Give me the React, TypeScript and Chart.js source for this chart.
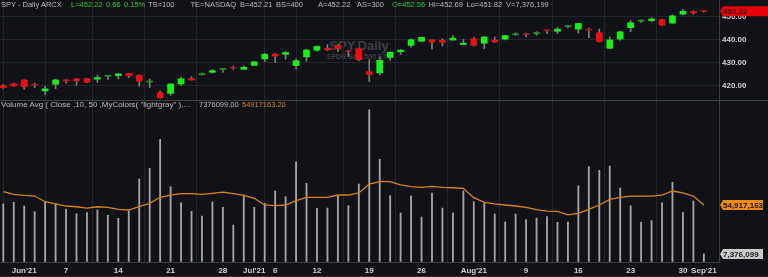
import React, { useEffect, useRef } from 'react';
import { Chart, registerables } from 'chart.js';

Chart.register(...registerables);

// ---------- data ----------
const dates = [
  '2021-05-27', '2021-05-28',
  '2021-06-01', '2021-06-02', '2021-06-03', '2021-06-04', '2021-06-07', '2021-06-08', '2021-06-09', '2021-06-10', '2021-06-11',
  '2021-06-14', '2021-06-15', '2021-06-16', '2021-06-17', '2021-06-18', '2021-06-21', '2021-06-22', '2021-06-23', '2021-06-24',
  '2021-06-25', '2021-06-28', '2021-06-29', '2021-06-30',
  '2021-07-01', '2021-07-02', '2021-07-06', '2021-07-07', '2021-07-08', '2021-07-09', '2021-07-12', '2021-07-13', '2021-07-14',
  '2021-07-15', '2021-07-16', '2021-07-19', '2021-07-20', '2021-07-21', '2021-07-22', '2021-07-23', '2021-07-26', '2021-07-27',
  '2021-07-28', '2021-07-29', '2021-07-30',
  '2021-08-02', '2021-08-03', '2021-08-04', '2021-08-05', '2021-08-06', '2021-08-09', '2021-08-10', '2021-08-11', '2021-08-12',
  '2021-08-13', '2021-08-16', '2021-08-17', '2021-08-18', '2021-08-19', '2021-08-20', '2021-08-23', '2021-08-24', '2021-08-25',
  '2021-08-26', '2021-08-27', '2021-08-30', '2021-08-31',
  '2021-09-01',
];

const open = [
  420.17, 420.97, 422.57, 420.37, 417.85, 420.75, 422.59, 423.11, 423.18, 422.96, 424.20,
  424.43, 425.42, 424.63, 421.67, 417.09, 416.80, 420.85, 423.19, 424.89, 425.90, 427.17,
  427.88, 427.21, 428.87, 431.67, 433.78, 433.66, 428.78, 432.53, 435.43, 436.24, 437.40,
  434.81, 436.01, 426.19, 425.68, 432.34, 434.74, 437.52, 439.31, 439.91, 439.68, 439.82,
  437.91, 440.34, 438.44, 439.78, 440.22, 442.10, 442.46, 442.61, 443.90, 443.62, 445.59,
  444.53, 444.24, 442.96, 436.27, 440.23, 445.16, 447.97, 448.17, 448.61, 447.12, 450.97,
  452.13, 452.56,
];
const high = [
  420.72, 421.25, 422.72, 421.23, 419.99, 422.92, 422.78, 423.21, 423.26, 424.63, 424.43,
  425.37, 425.46, 424.87, 423.02, 417.83, 421.06, 424.00, 424.05, 425.55, 427.09, 427.65,
  428.56, 428.78, 430.60, 434.10, 434.01, 434.76, 431.73, 435.84, 437.35, 437.84, 437.92,
  435.53, 436.06, 431.41, 432.42, 434.70, 435.72, 440.30, 441.03, 439.94, 440.30, 441.80,
  440.06, 440.93, 441.28, 441.12, 441.85, 442.94, 442.80, 443.44, 444.30, 445.26, 445.94,
  447.11, 444.96, 444.63, 441.14, 443.71, 448.23, 448.54, 449.46, 448.86, 450.65, 453.07,
  452.49, 452.69,
];
const low = [
  418.99, 419.79, 418.64, 419.29, 416.28, 418.84, 421.19, 420.32, 421.41, 421.55, 422.82,
  423.10, 423.54, 419.92, 419.32, 414.70, 415.93, 420.08, 422.51, 424.62, 425.55, 425.89,
  427.13, 427.18, 428.80, 430.52, 430.01, 431.51, 427.52, 430.71, 434.97, 435.31, 434.91,
  432.72, 430.92, 421.97, 424.83, 431.01, 433.69, 436.79, 439.26, 435.99, 437.31, 439.81,
  437.77, 437.21, 436.10, 438.73, 439.88, 441.80, 441.31, 441.88, 442.60, 442.66, 445.07,
  442.87, 440.85, 438.92, 436.12, 439.71, 443.44, 447.42, 447.77, 446.16, 447.06, 450.71,
  450.92, 451.82,
];
const close = [
  419.29, 420.04, 419.67, 420.33, 418.77, 422.60, 422.19, 422.28, 421.65, 423.61, 424.31,
  425.26, 424.48, 422.11, 421.97, 414.92, 420.86, 423.11, 422.60, 425.10, 426.61, 427.47,
  427.70, 428.06, 430.43, 433.72, 432.93, 434.46, 430.92, 435.52, 437.08, 435.59, 436.24,
  434.75, 431.34, 424.97, 431.06, 434.55, 435.46, 439.94, 441.02, 439.01, 438.83, 440.65,
  438.51, 437.59, 441.15, 438.98, 441.76, 442.49, 442.13, 442.68, 443.80, 444.53, 445.92,
  446.97, 444.04, 439.18, 439.86, 443.36, 447.26, 448.05, 448.91, 446.26, 450.25, 452.23,
  451.56, 452.22,
];

const volume = [
  56.0e6, 57.6e6, 54.0e6, 48.5e6, 58.2e6, 55.7e6, 51.1e6, 46.5e6, 47.5e6, 50.1e6,
  45.0e6, 42.0e6, 49.5e6, 80.3e6, 90.7e6, 118.9e6, 72.8e6, 57.2e6, 48.8e6, 44.3e6,
  57.9e6, 52.7e6, 35.5e6, 64.7e6, 52.7e6, 56.6e6, 68.6e6, 63.1e6, 97.1e6, 76.0e6,
  51.8e6, 52.0e6, 63.7e6, 54.3e6, 75.4e6, 147.7e6, 99.5e6, 64.0e6, 47.2e6, 63.7e6,
  43.3e6, 66.7e6, 52.0e6, 47.2e6, 68.6e6, 58.2e6, 56.6e6, 46.2e6, 38.4e6, 46.2e6,
  40.7e6, 42.3e6, 43.6e6, 38.1e6, 38.4e6, 73.8e6, 92.3e6, 88.7e6, 92.9e6, 71.5e6,
  54.3e6, 38.1e6, 39.7e6, 57.2e6, 77.1e6, 47.9e6, 58.9e6, 7376099,
];

const volumeAvg10 = [
  68.0e6, 65.4e6, 64.4e6, 63.7e6, 58.2e6, 56.0e6, 54.0e6, 53.3e6, 52.0e6, 53.3e6,
  52.7e6, 50.8e6, 50.1e6, 53.3e6, 56.6e6, 62.5e6, 64.7e6, 66.0e6, 66.0e6, 65.4e6,
  66.4e6, 67.6e6, 66.0e6, 64.4e6, 61.5e6, 55.0e6, 54.3e6, 55.0e6, 59.2e6, 62.5e6,
  62.5e6, 62.5e6, 64.7e6, 64.7e6, 66.7e6, 75.4e6, 77.7e6, 77.7e6, 74.5e6, 72.8e6,
  72.2e6, 73.2e6, 72.2e6, 71.8e6, 71.2e6, 62.1e6, 57.6e6, 56.0e6, 55.0e6, 54.0e6,
  52.7e6, 50.4e6, 49.1e6, 48.8e6, 45.3e6, 46.9e6, 50.8e6, 55.0e6, 60.5e6, 62.5e6,
  63.7e6, 63.7e6, 63.7e6, 64.7e6, 68.6e6, 66.7e6, 63.7e6, 54917163.2,
];

const xTickDates = [
  '2021-06-01', '2021-06-07', '2021-06-14', '2021-06-21', '2021-06-28', '2021-07-01', '2021-07-06', '2021-07-12',
  '2021-07-19', '2021-07-26', '2021-08-02', '2021-08-09', '2021-08-16', '2021-08-23', '2021-08-30', '2021-09-01',
];
const xTickLabels = ["Jun'21", '7', '14', '21', '28', "Jul'21", '6', '12', '19', '26', "Aug'21", '9', '16', '23', '30', "Sep'21"];
const xGridDates = [
  '2021-06-01', '2021-06-07', '2021-06-14', '2021-06-21', '2021-06-28', '2021-07-06', '2021-07-12',
  '2021-07-19', '2021-07-26', '2021-08-02', '2021-08-09', '2021-08-16', '2021-08-23', '2021-08-30',
];

const headerTokens = [
  { t: 'SPY - Daily ARCX', x: 1, green: false },
  { t: 'L=452.22', x: 71, green: true },
  { t: '0.66', x: 106, green: true },
  { t: '0.15%', x: 124, green: true },
  { t: 'TS=100', x: 148, green: false },
  { t: 'TE=NASDAQ', x: 190.5, green: false },
  { t: 'B=452.21', x: 240, green: false },
  { t: 'BS=400', x: 276, green: false },
  { t: 'A=452.22', x: 318, green: false },
  { t: 'AS=300', x: 357, green: false },
  { t: 'O=452.56', x: 392, green: true },
  { t: 'Hi=452.69', x: 428.5, green: false },
  { t: 'Lo=451.82', x: 466.5, green: false },
  { t: 'V=7,376,199', x: 506, green: false },
];
const volumeHeader = 'Volume Avg ( Close ,10, 50 ,MyColors( "lightgray" ),...';
const volumeHeaderValue = '7376099.00';
const volumeHeaderAvg = '54917163.20';
const watermarkTitle = 'SPY,Daily';
const watermarkSub = 'SPDR S&P 500 ETF';

// ---------- styles ----------
const BG = '#111217';
const GRID = '#23252c';
const BORDER = '#3b3d44';
const TXT = '#d2d2d2';
const HDR = '#b9b9b9';
const HDR_GREEN = '#25cc25';
const ORANGE = '#d9820f';
const AXIS_FONT = { family: '"Liberation Sans", Arial, sans-serif', size: 8, weight: 'bold' as const };

export default function App() {
  const ref = useRef<HTMLCanvasElement>(null);

  useEffect(() => {
    const n = dates.length;
    const idx = (d: string) => dates.indexOf(d);
    const tickIdx = xTickDates.map(idx);
    const labelMap = new Map<number, string>();
    tickIdx.forEach((v, k) => labelMap.set(v, xTickLabels[k]));
    const gridSet = new Set(xGridDates.map(idx));

    const bodies = dates.map((_, i) => ({ x: i, y: [open[i], close[i]] }));
    const wicks = dates.map((_, i) => ({ x: i, y: [low[i], high[i]] }));
    const bodyColors = dates.map((_, i) => {
      const diff = close[i] - open[i];
      const doji = Math.abs(diff) < 0.395;
      if (diff >= 0) return doji ? '#1d9a1d' : '#17f017';
      return doji ? '#b01515' : '#f00d0d';
    });
    const vols = dates.map((_, i) => ({ x: i, y: volume[i] }));
    const avg = dates.map((_, i) => ({ x: i, y: volumeAvg10[i] }));

    const lastPrice = close[n - 1];
    const lastVol = volume[n - 1];
    const lastAvg = volumeAvg10[n - 1];

    const boxPlugin = {
      id: 'valueBoxes',
      afterDraw(chart: any) {
        const ctx = chart.ctx;
        const yP = chart.scales.yPrice;
        const yV = chart.scales.yVol;
        const left = yP.left;
        ctx.save();
        // pane separator
        ctx.strokeStyle = '#3e4047';
        ctx.lineWidth = 1;
        ctx.beginPath();
        ctx.moveTo(0, Math.round(yP.bottom) + 0.5);
        ctx.lineTo(chart.width, Math.round(yP.bottom) + 0.5);
        ctx.stroke();
        // bottom edge
        ctx.fillStyle = '#2e3036';
        ctx.fillRect(0, chart.height - 1, chart.width, 1);

        const drawBox = (y: number, text: string, bg: string, fg: string, right: number) => {
          const h = 10;
          const x0 = left + 1;
          ctx.fillStyle = bg;
          ctx.beginPath();
          ctx.moveTo(x0, y);
          ctx.lineTo(x0 + 3, y - h / 2);
          ctx.lineTo(right, y - h / 2);
          ctx.lineTo(right, y + h / 2);
          ctx.lineTo(x0 + 3, y + h / 2);
          ctx.closePath();
          ctx.fill();
          ctx.fillStyle = fg;
          ctx.font = 'bold 8px "Liberation Sans", Arial, sans-serif';
          ctx.textAlign = 'left';
          ctx.textBaseline = 'middle';
          ctx.fillText(text, x0 + 3, y + 0.5);
        };
        drawBox(yP.getPixelForValue(lastPrice), lastPrice.toFixed(2), '#e6000a', '#3a0003', chart.width);
        drawBox(yV.getPixelForValue(lastAvg), Math.round(lastAvg).toLocaleString('en-US'), '#f08c0a', '#1e1200', chart.width - 5);
        drawBox(yV.getPixelForValue(lastVol), Math.round(lastVol).toLocaleString('en-US'), '#c9c9c9', '#1c1c1c', chart.width - 5);
        ctx.restore();
      },
    };

    const zeroPad = (s: any) => {
      s.paddingLeft = 0;
      s.paddingRight = 0;
      s.paddingTop = 0;
      s.paddingBottom = 0;
    };

    const chart = new Chart(ref.current as HTMLCanvasElement, {
      type: 'bar',
      data: {
        datasets: [
          {
            type: 'bar', label: 'body', data: bodies as any, xAxisID: 'x', yAxisID: 'yPrice',
            backgroundColor: bodyColors, barThickness: 6, grouped: false, minBarLength: 1, borderWidth: 0,
          } as any,
          {
            type: 'bar', label: 'wick', data: wicks as any, xAxisID: 'x', yAxisID: 'yPrice',
            backgroundColor: '#7c7c7c', barThickness: 1, grouped: false, borderWidth: 0,
          } as any,
          {
            type: 'line', label: 'avg', data: avg as any, xAxisID: 'x', yAxisID: 'yVol',
            borderColor: ORANGE, borderWidth: 1.3, pointRadius: 0, tension: 0, fill: false,
          } as any,
          {
            type: 'bar', label: 'volume', data: vols as any, xAxisID: 'x', yAxisID: 'yVol',
            backgroundColor: 'rgba(200,200,200,0.8)', barThickness: 1.2, grouped: false, borderWidth: 0,
          } as any,
        ],
      },
      options: {
        responsive: false,
        animation: false,
        devicePixelRatio: 1,
        events: [],
        layout: { padding: 0 },
        plugins: { legend: { display: false }, tooltip: { enabled: false } },
        scales: {
          x: {
            type: 'linear', position: 'bottom', min: -0.316, max: 68.45, offset: false,
            afterBuildTicks: (s: any) => { s.ticks = tickIdx.map((v) => ({ value: v })); },
            afterFit: (s: any) => { s.height = 15; zeroPad(s); },
            grid: {
              color: (c: any) => (c.tick && gridSet.has(c.tick.value) ? GRID : 'rgba(0,0,0,0)'),
              drawTicks: false, lineWidth: 1,
            },
            border: { color: BORDER },
            ticks: {
              autoSkip: false, maxRotation: 0, padding: 4, color: TXT, font: AXIS_FONT,
              callback: (v: any) => labelMap.get(v) ?? '',
            },
          },
          yPrice: {
            type: 'linear', position: 'right', stack: 'panes', stackWeight: 100, min: 413.95, max: 457.1,
            afterBuildTicks: (s: any) => {
              s.ticks = s.ticks.filter((t: any) => Math.abs(t.value / 5 - Math.round(t.value / 5)) < 1e-6);
            },
            afterFit: (s: any) => { s.width = 49; zeroPad(s); },
            grid: { color: GRID, drawTicks: false },
            border: { color: BORDER },
            ticks: {
              stepSize: 5, padding: 3, color: TXT, font: AXIS_FONT,
              callback: (v: any) => (Math.abs(v % 10) < 1e-6 && v < 455 ? Number(v).toFixed(2) : ''),
            },
          },
          yVol: {
            type: 'linear', position: 'right', stack: 'panes', stackWeight: 162, min: -0.5e6, max: 157.2e6,
            afterBuildTicks: (s: any) => {
              s.ticks = s.ticks.filter((t: any) => t.value > 0 && Math.abs(t.value / 20e6 - Math.round(t.value / 20e6)) < 1e-6);
            },
            afterFit: (s: any) => { s.width = 49; zeroPad(s); },
            grid: { color: GRID, drawTicks: false },
            border: { color: BORDER },
            ticks: {
              stepSize: 20e6, padding: 3, color: TXT, font: AXIS_FONT,
              callback: (v: any) => Number(v).toLocaleString('en-US'),
            },
          },
        } as any,
      },
      plugins: [boxPlugin],
    } as any);

    return () => chart.destroy();
  }, []);

  const hdrFont = '"Liberation Sans", Arial, sans-serif';
  return (
    <div style={{ position: 'fixed', left: 0, top: 0, width: 768, height: 277, background: BG, overflow: 'hidden' }}>
      <div style={{ position: 'absolute', left: 300, width: 118, top: 38, textAlign: 'center', zIndex: 0,
        font: `bold 13px ${hdrFont}`, lineHeight: '15px', color: '#3c3e45', whiteSpace: 'nowrap' }}>{watermarkTitle}</div>
      <div style={{ position: 'absolute', left: 300, width: 118, top: 52, textAlign: 'center', zIndex: 0,
        font: `bold 7px ${hdrFont}`, lineHeight: '9px', color: '#3c3e45', whiteSpace: 'nowrap' }}>{watermarkSub}</div>
      <canvas ref={ref} width={768} height={277} style={{ position: 'absolute', left: 0, top: 0, zIndex: 1, width: 768, height: 277 }} />
      {headerTokens.map((h, k) => (
        <span key={k} style={{ position: 'absolute', left: h.x, top: 0, zIndex: 2, font: `7.5px ${hdrFont}`, lineHeight: '10px',
          color: h.green ? HDR_GREEN : HDR, whiteSpace: 'nowrap' }}>{h.t}</span>
      ))}
      <span style={{ position: 'absolute', left: 1, top: 100, zIndex: 2, font: `8px ${hdrFont}`, lineHeight: '10px', color: HDR, whiteSpace: 'nowrap' }}>{volumeHeader}</span>
      <span style={{ position: 'absolute', left: 199, top: 100, zIndex: 2, font: `7.5px ${hdrFont}`, lineHeight: '10px', color: HDR, whiteSpace: 'nowrap' }}>{volumeHeaderValue}</span>
      <span style={{ position: 'absolute', left: 242, top: 100, zIndex: 2, font: `7.5px ${hdrFont}`, lineHeight: '10px', color: ORANGE, whiteSpace: 'nowrap' }}>{volumeHeaderAvg}</span>
    </div>
  );
}
